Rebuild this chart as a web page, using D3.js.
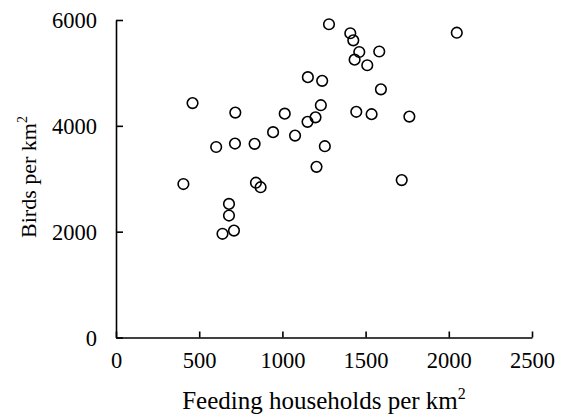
<!DOCTYPE html>
<html>
<head>
<meta charset="utf-8">
<script src="https://cdn.jsdelivr.net/npm/d3@7"></script>
<style>
  body { margin: 0; background: #fff; }
  svg text { font-family: "Liberation Serif", "DejaVu Serif", serif !important; fill: #000; }
</style>
</head>
<body>
<div id="chart"></div>
<script>
// Feeding households per km2 (x) vs birds per km2 (y)
const households = [1280, 1153, 1239, 460, 717, 1231, 1014, 1199, 1151, 944, 1076, 602, 715, 833, 1255, 1205, 405, 841, 869,
  679, 679, 640, 709,
  1408, 1426, 1462, 1582, 1434, 1510, 2048, 1592, 1444, 1536, 1763, 1717];
const birds = [5920, 4920, 4850, 4430, 4250, 4390, 4230, 4160, 4075, 3880, 3815, 3600, 3665, 3660, 3615, 3225, 2900, 2925, 2840,
  2525, 2305, 1960, 2020,
  5750, 5615, 5395, 5405, 5250, 5145, 5760, 4690, 4265, 4220, 4175, 2975];
const xTicks = [0, 500, 1000, 1500, 2000, 2500];
const yTicks = [0, 2000, 4000, 6000];

const width = 568, height = 416;
const margin = { left: 116, right: 36, top: 20, bottom: 78.5 };

const svg = d3.select('#chart').append('svg')
  .attr('width', width)
  .attr('height', height);

const x = d3.scaleLinear().domain([0, 2500]).range([margin.left, width - margin.right]);
const y = d3.scaleLinear().domain([0, 6000]).range([height - margin.bottom, margin.top]);

// x axis, ticks pointing inward
const xAxis = svg.append('g')
  .attr('transform', `translate(0, ${y(0)})`)
  .call(d3.axisBottom(x).tickValues(xTicks).tickFormat(d3.format('d'))
    .tickSizeInner(-6).tickSizeOuter(0).tickPadding(15));

// y axis
const yAxis = svg.append('g')
  .attr('transform', `translate(${x(0)}, 0)`)
  .call(d3.axisLeft(y).tickValues(yTicks).tickFormat(d3.format('d'))
    .tickSizeInner(-7).tickSizeOuter(0).tickPadding(19));

[xAxis, yAxis].forEach(g => {
  g.attr('font-family', '"Liberation Serif", serif').attr('font-size', 22.5);
  g.select('.domain').attr('stroke', '#000').attr('stroke-width', 1.6);
  g.selectAll('.tick line').attr('stroke', '#000').attr('stroke-width', 1.6);
  g.selectAll('.tick text').attr('fill', '#000');
});
xAxis.selectAll('.tick text').attr('dy', '0.71em');
yAxis.selectAll('.tick text').attr('dy', '0.35em');

// points
svg.append('g')
  .selectAll('circle')
  .data(households.map((h, i) => ({ h, b: birds[i] })))
  .enter()
  .append('circle')
  .attr('cx', d => x(d.h))
  .attr('cy', d => y(d.b))
  .attr('r', 5.3)
  .attr('fill', 'none')
  .attr('stroke', '#000')
  .attr('stroke-width', 1.6);

// axis titles
const xt = svg.append('text')
  .attr('x', x(1250))
  .attr('y', 409)
  .attr('text-anchor', 'middle')
  .style('font-size', '25px');
xt.append('tspan').text('Feeding households per km');
xt.append('tspan').attr('dy', -10).style('font-size', '16px').text('2');

const yt = svg.append('text')
  .attr('transform', 'translate(36, 177) rotate(-90)')
  .attr('text-anchor', 'middle')
  .style('font-size', '22px');
yt.append('tspan').text('Birds per km');
yt.append('tspan').attr('dy', -9).style('font-size', '14px').text('2');
</script>
</body>
</html>
